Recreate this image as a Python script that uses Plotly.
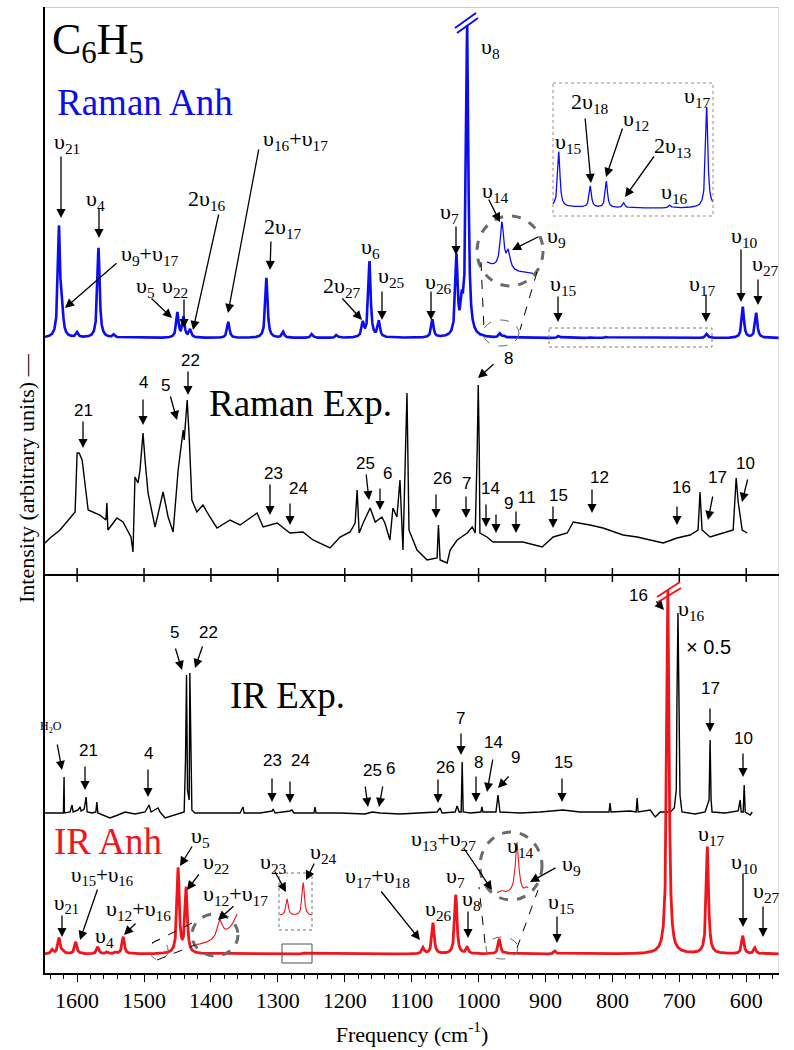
import numpy as np
import plotly.graph_objects as go

# ---- values --------------------------------------------------------------
# anharmonic spectra: band centres (cm-1) and peak heights (arb. units)
raman_anh_freq = [1627, 1622, 1600, 1568, 1545, 1450, 1441, 1431, 1374, 1317, 1292, 1249, 1212,
                  1173, 1163, 1149, 1069, 1033, 1025, 1017, 968, 962, 880, 833, 809, 783, 714,
                  659, 605, 585]
raman_anh_int = [110, 18, 5, 90, 3, 25, 20, 8, 16, 60, 6, 4, 3,
                 14, 76, 16, 18, 78, 25, 310, 4, 1.5, 2.2, 0.85, 1.05, 0.2, 0.12,
                 4, 31, 25]

ir_anh_freq = [1637, 1627, 1621, 1602, 1569, 1555, 1543, 1531, 1475, 1449, 1437, 1286, 1262,
               1083, 1068, 1034, 1017, 984, 969, 959, 886, 717, 658, 605, 587]
ir_anh_int = [4, 16, 3, 12, 7, 2, 1.5, 17, 0.9, 85, 65, 0.5, 1.0,
              6, 31, 59, 6, 0.6, 15, 1.5, 3, 364, 107, 18, 6]

raman_exp_freq = [1648, 1640.5, 1625.5, 1610.5, 1603, 1600, 1597, 1592.5, 1588, 1583.5, 1566, 1557,
                  1555.5, 1554, 1540.5, 1531.5, 1519.5, 1516.5, 1513.5, 1509, 1506, 1501.5, 1498.5,
                  1494, 1483.5, 1471.5, 1464, 1456.5, 1449, 1441.5, 1440, 1435.5, 1432.5, 1428.5,
                  1421, 1412, 1401.5, 1391, 1371.5, 1356.5, 1341.5, 1331, 1322, 1301, 1282, 1262.5,
                  1247.5, 1222, 1207, 1192, 1184.5, 1181.5, 1178.5, 1172.5, 1162, 1154.5, 1144.5,
                  1140, 1132.5, 1128, 1122, 1117.5, 1113, 1110, 1107, 1104, 1092, 1077, 1062, 1060,
                  1057.5, 1047, 1042.5, 1032, 1017, 1009.5, 1005, 1002, 1000.5, 999, 998, 987.5,
                  978.5, 957.5, 933.5, 905, 888.5, 867.5, 858.5, 833.5, 814, 784, 763, 743.5, 724,
                  703.5, 684, 672, 669, 666, 654, 634.5, 619.5, 615, 612, 606, 598.5]
raman_exp_int = [32, 37, 45, 57, 63, 122, 122, 115, 88, 65, 60, 55,
                 72, 45, 57, 53, 38, 23, 98, 92, 105, 142, 115,
                 82, 48, 83, 58, 43, 105, 145, 135, 175, 138, 75,
                 63, 70, 58, 47, 55, 50, 57, 62, 48, 52, 42, 43,
                 35, 27, 38, 43, 52, 85, 42, 52, 67, 53, 58,
                 52, 35, 67, 58, 95, 25, 108, 182, 45, 25, 15, 17, 50,
                 15, 12, 25, 35, 42, 48, 42, 128, 190, 128, 42, 38,
                 33, 33, 33, 28, 38, 42, 53, 50, 47, 40, 38, 35, 32,
                 37, 40, 45, 83, 45, 38, 42, 45, 97, 73, 45, 42]

ir_exp_freq = [1648, 1625.5, 1620.5, 1619.5, 1619, 1610.5, 1607.5, 1606, 1598.5, 1595.5, 1594,
               1589.5, 1586.5, 1585, 1577.5, 1572, 1570.5, 1569, 1561.5, 1551, 1539, 1528.5,
               1513.5, 1498.5, 1492.5, 1489.5, 1479, 1476, 1468.5, 1458, 1446, 1440, 1438,
               1436.5, 1435, 1432.5, 1431.5, 1429.5, 1428.5, 1424, 1401.5, 1356.5, 1352, 1350.5,
               1326.5, 1308.5, 1307, 1304, 1282, 1279, 1276, 1246, 1244.5, 1243, 1207, 1169.5,
               1159, 1147, 1117.5, 1087.5, 1062, 1057.5, 1054.5, 1035, 1032, 1029, 1026, 1024.5,
               1023, 1012.5, 996.5, 995, 993.5, 974, 971, 968, 938, 908, 874, 848.5, 818.5, 805,
               803.5, 802, 773.5, 764.5, 763, 761.5, 743.5, 736, 728.5, 713.5, 707.5, 704.5,
               703.5, 702, 700.5, 699, 696, 684, 676.5, 661.5, 655.5, 654, 652.5, 651, 631.5,
               612, 609, 607.5, 604.5, 603, 601.5, 594, 591]
ir_exp_int = [0, 0, 0, 36, 0, 1, 8, 1, 3, 6, 2,
              4, 16, 1, 0, 1, 11, 0, -2, -5, -2, 1,
              -1, 1, 8, 1, 5, 1, -5, -3, 0, 1, 53,
              138, 23, 13, 140, 66, 3, 0, 0, 0, 6, 0,
              0, 2, 4, 0, 2, 3, 0, 0, 6, 0, 0, -1,
              1, 0, -1, 0, 1, 5, 0, 1, 7, 1, 1, 51,
              1, 0, 1, 6, 1, 1, 18, 1, 0, 1, 3, 1, 1, 1,
              10, 1, 2, 1, 15, 1, 3, -4, 1, 1, 5, 23,
              113, 200, 113, 18, 1, 0, -1, 1, 13, 73, 13, 1, 0,
              2, 13, 1, 1, 28, 1, -2, 1]

axis_ticks = [1600, 1500, 1400, 1300, 1200, 1100, 1000, 900, 800, 700, 600]

# ---- styling / layout helpers ----------------------------------------------
BLUE = "#0c0cf0"
RED = "#f0141c"
GREY = "#6a6a6a"
SERIF = "Liberation Serif, Times New Roman, serif"
SANS = "Liberation Sans, Arial, sans-serif"

X_LO, X_HI = 551, 1648
PLOT_L, PLOT_W, PLOT_B = 45, 734, 973


def fx(px):
    # reference-picture pixel column -> wavenumber
    return X_HI - (px - PLOT_L) * (X_HI - X_LO) / PLOT_W


def fy(py):
    # reference-picture pixel row -> y data unit
    return PLOT_B - py


def lorentz(f, centres, heights, hwhm=2.0):
    f = np.asarray(f, dtype=float)[:, None]
    c = np.asarray(centres, dtype=float)[None, :]
    h = np.asarray(heights, dtype=float)[None, :]
    return (h / (1 + ((f - c) / hwhm) ** 2)).sum(axis=1)


RAMAN_ANH_Y = fy(338)
RAMAN_EXP_Y = fy(575)
IR_EXP_Y = fy(813)
IR_ANH_Y = fy(954)

grid = np.linspace(X_LO, X_HI, 9000)
fig = go.Figure()


def line(x, y, color, width):
    fig.add_trace(go.Scatter(x=x, y=y, mode="lines", hoverinfo="skip",
                             line=dict(color=color, width=width)))


# experimental traces
line(raman_exp_freq, RAMAN_EXP_Y + np.array(raman_exp_int), "black", 1.4)
line(ir_exp_freq, IR_EXP_Y + np.array(ir_exp_int), "black", 1.4)

# Raman anharmonic + insets
line(grid, RAMAN_ANH_Y + lorentz(grid, raman_anh_freq, raman_anh_int), BLUE, 2.6)
win = np.linspace(650, 889, 1500)
line(win, fy(209) + 25 * lorentz(win, raman_anh_freq, raman_anh_int), BLUE, 1.3)
win = np.linspace(939, 982, 500)
line(965 + (win - 968) * 1.6, fy(277) + 11.5 * lorentz(win, raman_anh_freq, raman_anh_int), BLUE, 1.3)

# IR anharmonic + insets
line(grid, IR_ANH_Y + lorentz(grid, ir_anh_freq, ir_anh_int), RED, 2.8)
win = np.linspace(1249, 1297, 500)
line(win, fy(917) + 33 * lorentz(win, ir_anh_freq, ir_anh_int), RED, 1.1)
win = np.linspace(958, 989, 500)
line(942.5 + (win - 969) * 1.5, fy(894) + 3.4 * lorentz(win, ir_anh_freq, ir_anh_int), RED, 1.1)
win = np.linspace(1464, 1491, 500)
line(1392.4 + (win - 1477.5) * 2.33, fy(952) + 20 * lorentz(win, ir_anh_freq, ir_anh_int), RED, 1.1)

# ---- shapes -----------------------------------------------------------------
shapes = []


def seg(x0, y0, x1, y1, color="black", width=1, dash="solid"):
    shapes.append(dict(type="line", xref="x", yref="y", x0=fx(x0), y0=fy(y0), x1=fx(x1), y1=fy(y1),
                       line=dict(color=color, width=width, dash=dash)))


def box(x0, y0, x1, y1, color=GREY, dash="dot"):
    shapes.append(dict(type="rect", xref="x", yref="y", x0=fx(x0), y0=fy(y0), x1=fx(x1), y1=fy(y1),
                       line=dict(color=color, width=1, dash=dash)))


def ellipse(cx, cy, rx, ry, width, dash):
    shapes.append(dict(type="circle", xref="x", yref="y", x0=fx(cx - rx), x1=fx(cx + rx),
                       y0=fy(cy - ry), y1=fy(cy + ry), line=dict(color=GREY, width=width, dash=dash)))


# frame (top/right grey) and middle axis with crossing ticks
seg(45, 7, 779, 7, "#9a9a9a", 1)
seg(779, 7, 779, 973, "#bdbdbd", 1)
shapes.append(dict(type="line", xref="x", yref="y", x0=X_HI, x1=fx(779), y0=RAMAN_EXP_Y, y1=RAMAN_EXP_Y,
                   line=dict(color="black", width=2)))
for t in axis_ticks:
    shapes.append(dict(type="line", xref="x", yref="y", x0=t, x1=t, y0=RAMAN_EXP_Y - 7, y1=RAMAN_EXP_Y + 7,
                       line=dict(color="black", width=1.5)))

# Raman insets
box(549, 328, 712, 347, "#7a7a7a", "dot")
box(553, 83, 713, 216, "#a08585", "dot")
ellipse(510, 251, 33, 35, 3, "dash")
ellipse(501, 333, 18, 13, 1, "dash")
seg(481, 262, 484, 330, "black", 1, "dash")
seg(537, 272, 520, 330, "black", 1, "dash")
seg(455, 28, 476, 13, BLUE, 2)
seg(457, 33, 478, 18, BLUE, 2)

# IR insets
box(279, 873, 312, 930, "#707070", "dot")
box(282, 944, 312, 963, "#505050", "solid")
ellipse(511, 866, 31, 34, 3, "dash")
ellipse(502, 948, 16, 11, 1, "dash")
seg(485, 943, 479, 887, "black", 1, "dash")
seg(517, 948, 538, 890, "black", 1, "dash")
ellipse(215, 935, 23, 21, 3, "dash")
ellipse(159, 950, 9, 10, 1, "dash")
seg(157, 960, 195, 945, "black", 1, "dash")
seg(152, 943, 192, 923, "black", 1, "dash")
seg(657, 597, 680, 582, RED, 2)
seg(658, 602, 681, 588, RED, 2)

# ---- annotations ------------------------------------------------------------
annotations = []


def label(text, px, py, size=22, color="black", family=SERIF):
    annotations.append(dict(text=text, x=fx(px), y=fy(py), xref="x", yref="y", showarrow=False,
                            xanchor="center", yanchor="middle",
                            font=dict(family=family, size=size, color=color)))


def arrow(tx, ty, hx, hy):
    annotations.append(dict(text="", x=fx(hx), y=fy(hy), ax=fx(tx), ay=fy(ty), xref="x", yref="y",
                            axref="x", ayref="y", showarrow=True, arrowhead=2, arrowsize=1.4,
                            arrowwidth=1.3, arrowcolor="black", standoff=0))


def u(n):
    return "υ<sub>%s</sub>" % n


label("C<sub>6</sub>H<sub>5</sub>", 98, 42, 44)
label("Raman Anh", 145, 102, 37, BLUE)
label("Raman Exp.", 300, 403, 37)
label("IR Exp.", 287, 695, 37)
label("IR Anh", 108, 841, 37, RED)

raman_anh_labels = [
    (u(21), 67, 143), (u(4), 95, 200), (u(9) + "+" + u(17), 150, 255), (u(5), 145, 287),
    (u(22), 175, 287), ("2" + u(16), 207, 200), (u(16) + "+" + u(17), 295, 140),
    ("2" + u(17), 283, 228), (u(6), 370, 248), ("2" + u(27), 342, 287), (u(25), 391, 277),
    (u(26), 438, 283), (u(7), 449, 213), (u(8), 490, 48), (u(14), 495, 192), (u(9), 556, 237),
    (u(15), 563, 285), (u(17), 702, 285), (u(10), 744, 237), (u(27), 765, 265),
    (u(15), 568, 143), ("2" + u(18), 590, 103), (u(12), 636, 120), ("2" + u(13), 673, 147),
    (u(16), 674, 193), (u(17), 697, 97),
]
raman_anh_arrows = [
    (61, 155, 61, 218), (99, 207, 99, 238), (118, 262, 65, 308), (150, 297, 172, 318),
    (184, 298, 184, 328), (219, 213, 193, 330), (259, 148, 228, 313), (271, 240, 270, 270),
    (341, 297, 362, 320), (382, 290, 382, 320), (431, 290, 431, 320), (456, 225, 456, 255),
    (488, 198, 500, 222), (540, 236, 512, 250), (558, 295, 558, 322), (706, 293, 706, 322),
    (741, 248, 741, 302), (758, 278, 758, 305),
    (585, 117, 591, 183), (623, 127, 606, 177), (655, 155, 625, 197),
]

raman_exp_labels = [
    ("21", 83, 410), ("4", 143, 382), ("5", 165, 385), ("22", 190, 360), ("23", 273, 473),
    ("24", 298, 488), ("25", 365, 463), ("6", 387, 473), ("26", 442, 478), ("7", 466, 483),
    ("14", 490, 488), ("9", 508, 503), ("11", 527, 497), ("15", 558, 495), ("12", 599, 477),
    ("16", 681, 487), ("17", 717, 477), ("10", 745, 463), ("8", 508, 358),
]
raman_exp_arrows = [
    (83, 420, 83, 448), (143, 398, 143, 425), (170, 395, 177, 420), (188, 370, 188, 395),
    (270, 483, 270, 515), (290, 502, 290, 525), (366, 473, 369, 500), (380, 487, 380, 510),
    (436, 493, 436, 518), (466, 495, 466, 518), (486, 503, 486, 527), (496, 513, 496, 533),
    (516, 510, 516, 533), (553, 505, 553, 528), (592, 488, 592, 513), (677, 505, 677, 525),
    (713, 495, 708, 520), (748, 478, 742, 502), (495, 363, 478, 378),
]

ir_exp_labels = [
    ("21", 88, 750), ("4", 148, 753), ("5", 174, 632), ("22", 208, 632), ("23", 272, 760),
    ("24", 300, 760), ("25", 372, 770), ("6", 390, 768), ("26", 445, 767), ("7", 460, 718),
    ("8", 478, 762), ("14", 493, 742), ("9", 515, 757), ("15", 563, 762), ("17", 710, 688),
    ("10", 743, 738), ("16", 638, 595),
]
ir_exp_arrows = [
    (57, 743, 62, 770), (85, 765, 85, 790), (148, 768, 148, 797), (175, 647, 182, 670),
    (203, 645, 195, 668), (272, 777, 272, 802), (290, 780, 290, 803), (365, 785, 368, 807),
    (383, 785, 379, 807), (438, 778, 438, 803), (461, 732, 461, 755), (476, 775, 476, 802),
    (493, 758, 487, 792), (510, 775, 498, 788), (562, 777, 562, 802), (710, 707, 710, 732),
    (743, 752, 743, 777), (655, 600, 664, 610),
]

ir_anh_labels = [
    (u(5), 200, 837), (u(22), 216, 863), (u(12) + "+" + u(16), 138, 910), (u(4), 104, 937),
    (u(12) + "+" + u(17), 235, 895),
    (u(23), 273, 863), (u(24), 323, 853), (u(17) + "+" + u(18), 377, 877), (u(26), 438, 910),
    (u(7), 455, 877), (u(8), 471, 900), (u(13) + "+" + u(27), 443, 840), (u(14), 520, 847),
    (u(9), 571, 865), (u(15), 561, 903), (u(17), 711, 835), (u(10), 744, 863), (u(27), 766, 892),
    (u(16), 691, 610),
]
ir_anh_arrows = [
    (193, 845, 180, 866), (200, 873, 187, 890), (98, 888, 80, 940), (62, 914, 62, 937),
    (137, 922, 124, 935), (235, 905, 218, 920), (274, 870, 286, 892), (315, 862, 306, 880),
    (380, 890, 420, 940), (468, 910, 468, 938), (463, 847, 492, 890), (557, 867, 530, 882),
    (557, 915, 557, 943), (743, 872, 743, 927), (763, 905, 763, 937),
]

for t, px, py in raman_anh_labels + ir_anh_labels:
    label(t, px, py, 22)
# crowded corner next to "IR Anh": a touch smaller
label(u(15) + "+" + u(16), 102, 876, 21)
label(u(21), 66, 904, 21)
for t, px, py in raman_exp_labels + ir_exp_labels:
    label(t, px, py, 17, family=SANS)
for a in raman_anh_arrows + raman_exp_arrows + ir_exp_arrows + ir_anh_arrows:
    arrow(*a)

label("H<sub>2</sub>O", 51, 727, 12)
label("× 0.5", 708, 647, 20, family=SANS)

annotations.append(dict(text="Intensity (arbitrary units) —", textangle=-90, xref="paper", yref="paper",
                        x=(26 - PLOT_L) / PLOT_W, y=(PLOT_B - 478) / 966.0, showarrow=False,
                        xanchor="center", yanchor="middle", font=dict(family=SERIF, size=22, color="black")))

fig.update_layout(
    width=794, height=1050,
    margin=dict(l=45, r=15, t=7, b=77),
    paper_bgcolor="white", plot_bgcolor="white",
    showlegend=False,
    shapes=shapes, annotations=annotations,
    xaxis=dict(range=[X_HI, X_LO], showgrid=False, zeroline=False, showline=True, linecolor="black",
               linewidth=1.5, ticks="outside", ticklen=7, tickwidth=1.2, tickcolor="black",
               tick0=0, dtick=100, minor=dict(ticks="outside", ticklen=4, dtick=20, tickcolor="black"),
               tickfont=dict(family=SERIF, size=22, color="black"),
               title=dict(text="Frequency (cm<sup>-1</sup>)", standoff=14,
                          font=dict(family=SERIF, size=22, color="black"))),
    yaxis=dict(range=[0, 966], showgrid=False, zeroline=False, showline=True, linecolor="black",
               linewidth=1.5, showticklabels=False, ticks=""),
)

# the page's default body margin would shift the whole figure by 8 px
fig.write_html("out.html", config={"displayModeBar": False},
               post_script="document.body.style.margin='0px';")
